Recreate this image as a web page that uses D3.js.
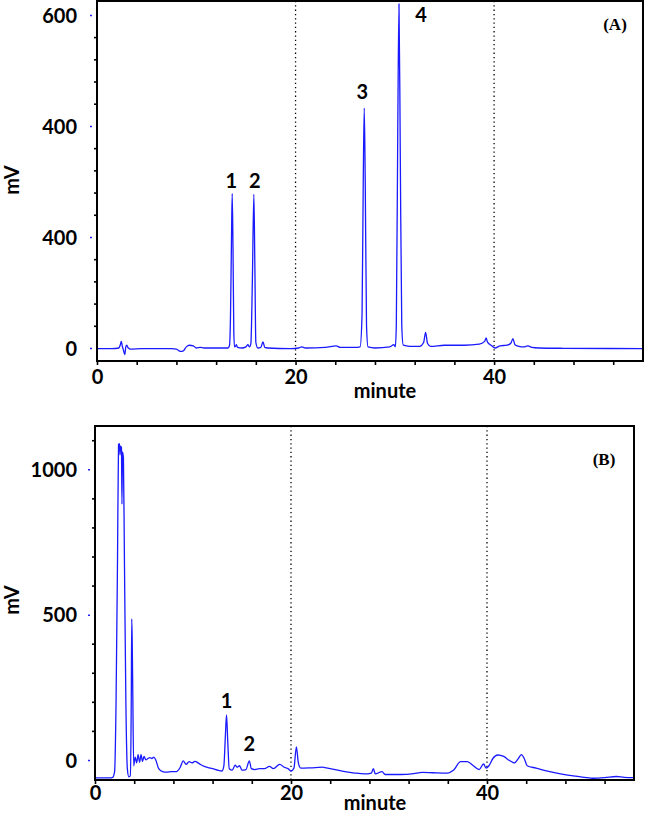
<!DOCTYPE html>
<html><head><meta charset="utf-8">
<script src="https://cdn.jsdelivr.net/npm/d3@7"></script>
<style>
html,body{margin:0;padding:0;background:#fff;}
svg{display:block;}
.lab{font-family:Lato,"Open Sans",sans-serif;font-weight:bold;fill:#000;}
.panel{font-family:"Liberation Serif","Times New Roman",serif;font-weight:bold;fill:#000;}
</style></head>
<body>
<svg id="c" width="645" height="818"></svg>
<script>
// ---------- DATA ----------
// Panel A trace (minute, mV)
const timeA = [0,1.5,2.2,2.35,2.45,2.55,2.65,2.8,2.9,3.0,3.15,3.4,4.5,6.0,7.5,8.0,8.4,8.7,9.0,9.3,9.7,10.0,10.4,10.8,12.5,13.2,13.35,13.45,13.55,13.62,13.7,13.78,13.85,13.95,14.05,14.15,14.6,15.0,15.2,15.35,15.5,15.65,15.8,15.9,16.0,16.2,16.5,16.72,16.9,17.2,19.5,20.3,20.6,21.0,23.0,24.1,24.5,26.0,26.5,26.7,26.82,26.92,27.02,27.15,27.3,28.0,29.5,29.9,30.05,30.15,30.3,30.42,30.55,30.7,30.85,31.5,32.5,32.9,33.1,33.3,33.6,35.0,37.0,38.5,39.05,39.2,39.35,39.7,40.1,40.6,41.3,41.7,41.9,42.1,42.5,43.0,43.4,43.8,44.5,47,55];
const mvA   = [-1,-1,0,6,12,3,-3,-12,2,5,0,-2,-1,-1,-1,-2,-6,-5,2,5,4,0,1,0,0,0,5,60,200,278,180,30,2,3,6,1,0,2,6,2,8,120,277,150,10,0,1,11,1,0,-1,0,2,0,1,4,1,1,2,60,300,432,300,40,2,0,2,6,2,40,400,620,350,40,5,3,3,10,28,8,3,5,5,7,12,18,10,5,0,4,5,9,17,6,3,2,4,1,0,-0.5,-1];
// Panel B trace (minute, mV)
const timeB = [0,1.5,1.8,2.0,2.15,2.3,2.4,2.5,2.55,2.6,2.7,2.75,2.8,2.9,3.0,3.15,3.3,3.45,3.6,3.7,3.75,3.8,3.85,3.95,4.1,4.25,4.4,4.55,4.7,4.85,5.0,5.2,5.4,5.6,5.8,6.0,6.2,6.5,6.9,7.3,7.8,8.3,8.7,9.0,9.3,9.6,9.9,10.2,10.6,11.0,11.4,12.0,12.6,12.95,13.15,13.3,13.42,13.55,13.7,14.0,14.3,14.5,14.75,15.0,15.4,15.75,15.95,16.3,16.8,17.3,17.8,18.2,18.85,19.3,19.7,20.0,20.3,20.55,20.75,21.0,22.0,23.2,23.6,24.5,25.5,26.5,27.5,28.2,28.4,28.6,29.3,29.6,30.5,31.2,32.5,33.4,34.5,36.0,36.6,37.3,38.0,38.6,39.2,39.65,39.9,40.2,40.6,41.1,41.7,42.3,42.8,43.2,43.5,43.8,44.1,45.0,46.4,47.5,48.8,50.0,50.8,52.0,53.2,54.0,55.0];
const mvB   = [-62,-62,-60,-40,200,700,1085,1088,1050,1080,1075,880,1060,1040,700,200,-30,-58,-55,200,485,400,250,-20,10,-10,18,-8,18,-5,12,0,5,8,5,10,0,-30,-40,-42,-40,-40,-25,-3,-15,-6,-10,-5,-12,-20,-25,-30,-36,-38,-20,80,155,60,-30,-35,-18,-25,-20,-35,-33,-3,-30,-33,-30,-30,-22,-30,-15,-25,-30,-38,-28,45,-10,-28,-27,-25,-27,-33,-40,-45,-48,-45,-30,-48,-40,-50,-50,-50,-47,-43,-44,-45,-35,-6,-6,-20,-33,-14,-28,-20,5,17,12,-2,-10,5,18,5,-20,-28,-40,-48,-55,-60,-63,-61,-57,-60,-61];

// Axis ticks / labels
const xTickValues = [0,20,40];
const xTickLabels = ["0","20","40"];
const xMinorStep = 4;
const yTickValuesA = [0,200,400,600];
const yTickLabelsA = ["0","400","400","600"];
const yMinorStepA = 40;
const yTickValuesB = [0,500,1000];
const yTickLabelsB = ["0","500","1000"];
const yMinorStepB = 100;
const peaksA = [{n:"1",t:13.62,v:278},{n:"2",t:15.8,v:277},{n:"3",t:26.92,v:432},{n:"4",t:30.42,v:620}];
const peaksB = [{n:"1",t:13.42,v:155},{n:"2",t:15.75,v:-3}];
const dottedAt = [20,40];

// ---------- DRAW ----------
const svg = d3.select("#c");

function panel(cfg){
  const {x,y,time,mv,yVals,yLabs,yMinor,peaks,tag,tagPos,peakOff} = cfg;
  const g = svg.append("g");
  const [xl,xr] = x.range();
  const [yb,yt] = [y(y.domain()[0]), y(y.domain()[1])];
  // dotted guides
  g.selectAll("line.dot").data(dottedAt).join("line")
    .attr("x1",d=>x(d)).attr("x2",d=>x(d)).attr("y1",yt).attr("y2",yb)
    .attr("stroke","#000").attr("stroke-width",1.3).attr("stroke-dasharray","1.3,3");
  // trace
  const line = d3.line().x((d,i)=>x(time[i])).y(d=>y(d)).curve(d3.curveMonotoneX);
  g.append("path").datum(mv).attr("d",line).attr("fill","none")
    .attr("stroke","#1a1aff").attr("stroke-width",1.3).attr("stroke-linejoin","round");
  // frame
  g.append("rect").attr("x",xl).attr("y",yt).attr("width",xr-xl).attr("height",yb-yt)
    .attr("fill","none").attr("stroke","#000").attr("stroke-width",2);
  // y minor ticks
  const ymin = Math.ceil(y.domain()[0]/yMinor)*yMinor;
  const minors = d3.range(ymin, y.domain()[1], yMinor).filter(v=>!yVals.includes(v));
  g.append("g").attr("transform",`translate(${xl},0)`)
    .call(d3.axisLeft(y).tickValues(minors).tickSize(3).tickFormat(""))
    .call(s=>s.select(".domain").remove())
    .selectAll("line").attr("stroke","#000").attr("stroke-width",1.6);
  // y major blue marks
  g.append("g").attr("transform",`translate(${xl-5},0)`)
    .call(d3.axisLeft(y).tickValues(yVals).tickSize(2).tickFormat(""))
    .call(s=>s.select(".domain").remove())
    .selectAll("line").attr("stroke","#2020ff").attr("stroke-width",1.5);
  // y labels
  g.append("g").attr("transform",`translate(${xl},0)`)
    .call(d3.axisLeft(y).tickValues(yVals).tickSize(0).tickPadding(xl-77).tickFormat((d,i)=>yLabs[i]))
    .call(s=>s.select(".domain").remove())
    .selectAll("text").attr("class","lab").style("font-size","20px").attr("dy","0.36em");
  // x ticks
  const xm = d3.range(0, x.domain()[1]+0.001, xMinorStep);
  g.append("g").attr("transform",`translate(0,${yb})`)
    .call(d3.axisBottom(x).tickValues(xm).tickSize(4).tickFormat(""))
    .call(s=>s.select(".domain").remove())
    .selectAll("line").attr("stroke","#000").attr("stroke-width",1.6);
  g.append("g").attr("transform",`translate(0,${yb})`)
    .call(d3.axisBottom(x).tickValues(xTickValues).tickSize(0).tickPadding(cfg.labPad).tickFormat((d,i)=>xTickLabels[i]))
    .call(s=>s.select(".domain").remove())
    .selectAll("text").attr("class","lab").style("font-size","20px");
  // axis titles
  g.append("text").attr("class","lab").style("font-size","20px")
    .attr("x",cfg.minX).attr("y",yb+cfg.minOff).attr("text-anchor","middle").text("minute");
  g.append("text").attr("class","lab").style("font-size","20px")
    .attr("transform",`translate(19,${cfg.mvY}) rotate(-90)`).attr("text-anchor","middle").text("mV");
  // peak labels
  g.selectAll("text.pk").data(peaks).join("text").attr("class","lab").style("font-size","20px")
    .attr("x",d=>x(d.t)+(peakOff[d.n]||[0,0])[0]).attr("y",d=>y(d.v)+(peakOff[d.n]||[0,0])[1])
    .attr("text-anchor","middle").text(d=>d.n);
  // panel tag
  g.append("text").attr("class","panel").style("font-size","17px")
    .attr("x",tagPos[0]).attr("y",tagPos[1]).attr("text-anchor","middle").text(tag);
}

const xA = d3.scaleLinear([0,55],[97,643]);
const yA = d3.scaleLinear([-23.4,625],[361,1]);
panel({x:xA,y:yA,time:timeA,mv:mvA,yVals:yTickValuesA,yLabs:yTickLabelsA,yMinor:yMinorStepA,
  peaks:peaksA,tag:"(A)",tagPos:[615,30],minX:385,mvY:180,labPad:9,minOff:37,
  peakOff:{"1":[-1,-6],"2":[1,-6],"3":[-2,-9],"4":[22,18]}});

const xB = d3.scaleLinear([0,55],[95,634]);
const yB = d3.scaleLinear([-69,1149],[780,426]);
panel({x:xB,y:yB,time:timeB,mv:mvB,yVals:yTickValuesB,yLabs:yTickLabelsB,yMinor:yMinorStepB,
  peaks:peaksB,tag:"(B)",tagPos:[604,465],minX:375,mvY:600,labPad:6,minOff:30,
  peakOff:{"1":[0,-7],"2":[0,-10]}});
</script>
</body></html>
